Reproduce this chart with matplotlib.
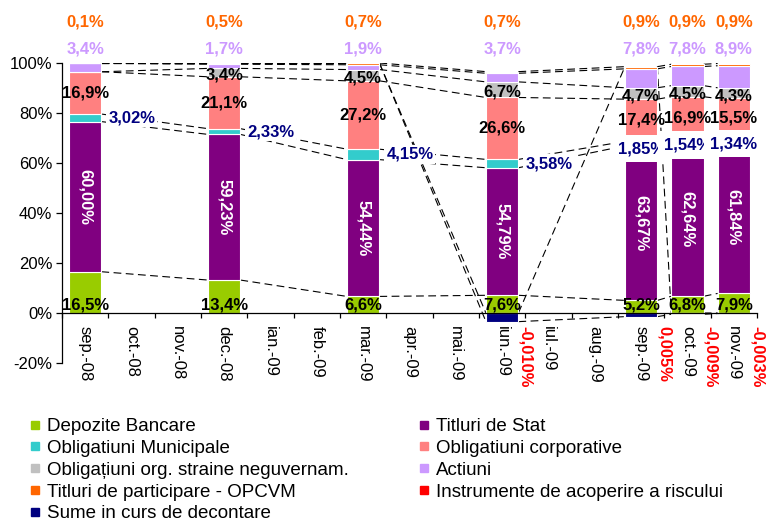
import numpy as np
import matplotlib
matplotlib.use("Agg")
import matplotlib.pyplot as plt
from matplotlib.lines import Line2D

plt.rcParams['font.family'] = ['Liberation Sans', 'DejaVu Sans']

# ---------------- data ----------------
months = ['sep.-08', 'oct.-08', 'nov.-08', 'dec.-08', 'ian.-09', 'feb.-09', 'mar.-09',
          'apr.-09', 'mai.-09', 'iun.-09', 'iul.-09', 'aug.-09', 'sep.-09', 'oct.-09', 'nov.-09']
bar_months = ['sep.-08', 'dec.-08', 'mar.-09', 'iun.-09', 'sep.-09', 'oct.-09', 'nov.-09']

depozite = [16.5, 13.4, 6.6, 7.6, 5.2, 6.8, 7.9]
titluri_stat = [60.00, 59.23, 54.44, 54.79, 63.67, 62.64, 61.84]
oblig_municipale = [3.02, 2.33, 4.15, 3.58, 1.85, 1.54, 1.34]
oblig_corporative = [16.9, 21.1, 27.2, 26.6, 17.4, 16.9, 15.5]
oblig_straine = [0.0, 3.4, 4.5, 6.7, 4.7, 4.5, 4.3]
actiuni = [3.4, 1.7, 1.9, 3.7, 7.8, 7.8, 8.9]
opcvm = [0.1, 0.5, 0.7, 0.7, 0.9, 0.9, 0.9]
instrumente = [0.0, 0.0, 0.0, -0.010, 0.005, -0.009, -0.003]
sume_decontare = [0.0, 0.0, 0.0, -3.7, -1.5, -0.5, -0.2]

series_names = ['Depozite Bancare', 'Titluri de Stat', 'Obligatiuni Municipale',
                'Obligatiuni corporative', 'Obligațiuni org. straine neguvernam.', 'Actiuni',
                'Titluri de participare - OPCVM', 'Instrumente de acoperire a riscului',
                'Sume in curs de decontare']
series_vals = [depozite, titluri_stat, oblig_municipale, oblig_corporative, oblig_straine,
               actiuni, opcvm, instrumente, sume_decontare]
colors = ['#99CC00', '#800080', '#33CCCC', '#FF8080', '#C0C0C0', '#CC99FF',
          '#FF6600', '#FF0000', '#000080']

# ---------------- figure ----------------
W, H = 769, 523
fig = plt.figure(figsize=(W / 100, H / 100), dpi=100)
ax = fig.add_axes([62 / W, 1 - 363 / H, 695 / W, 300 / H])

data = np.array(series_vals, dtype=float)          # (series, bars)
totals = np.abs(data).sum(axis=0)
pct = data / totals * 100.0                          # 100% stacked

xs = np.array([months.index(m) for m in bar_months], dtype=float)
bw = 0.7

nS, nB = pct.shape
bottoms = np.zeros_like(pct)
ends = np.zeros_like(pct)
for b in range(nB):
    pos, neg = 0.0, 0.0
    for s in range(nS):
        v = pct[s, b]
        if v >= 0:
            bottoms[s, b] = pos
            pos += v
            ends[s, b] = pos
        else:
            bottoms[s, b] = neg
            neg += v
            ends[s, b] = neg

for s in range(nS):
    ax.bar(xs, pct[s], bottom=bottoms[s], width=bw, color=colors[s],
           edgecolor='white', linewidth=0.8, zorder=2)

# series lines
for s in range(nS):
    for b in range(nB - 1):
        ax.plot([xs[b] + bw / 2, xs[b + 1] - bw / 2], [ends[s, b], ends[s, b + 1]],
                color='black', lw=0.8, ls=(0, (7, 4)), zorder=1)

# ---------------- axes styling ----------------
ax.set_xlim(-0.5, len(months) - 0.5)
ax.set_ylim(-20, 100)
ax.spines['top'].set_visible(False)
ax.spines['right'].set_visible(False)
ax.spines['bottom'].set_position(('data', 0))
ax.spines['bottom'].set_zorder(3)
ax.spines['left'].set_linewidth(0.9)
ax.spines['bottom'].set_linewidth(0.9)

ax.set_yticks([-20, 0, 20, 40, 60, 80, 100])
ax.set_yticklabels([f'{t}%' for t in [-20, 0, 20, 40, 60, 80, 100]], fontsize=12)
ax.tick_params(axis='y', length=4, width=0.9, pad=3, direction='out')

ax.set_xticks(range(len(months)))
ax.set_xticklabels(months, rotation=270, ha='center', va='top', fontsize=12)
ax.set_xticks(np.arange(-0.5, len(months), 1), minor=True)
ax.tick_params(axis='x', which='major', length=0, pad=9)
ax.tick_params(axis='x', which='minor', length=3.5, width=0.9, direction='out')


def fmt(v, d):
    return f'{v:.{d}f}'.replace('.', ',') + '%'


bold = dict(fontsize=12, fontweight='bold')
for b in range(nB):
    x = xs[b]
    # Depozite
    ax.text(x, 0, fmt(depozite[b], 1), ha='center', va='bottom', color='black', zorder=5, **bold)
    # Titluri de Stat
    ax.text(x, bottoms[1, b] + pct[1, b] / 2, fmt(titluri_stat[b], 2), ha='center', va='center',
            rotation=270, color='white', zorder=5, **bold)
    # Municipale
    ymid = bottoms[2, b] + pct[2, b] / 2
    nxt_empty = (b == nB - 1) or (xs[b + 1] - xs[b] > 1)
    if b < nB - 1 and nxt_empty:
        ax.annotate(fmt(oblig_municipale[b], 2), (x + bw / 2, ymid), xytext=(5, 0),
                    textcoords='offset points', ha='left', va='center', color='#000080',
                    zorder=6, bbox=dict(boxstyle='square,pad=0.12', fc='white', ec='none'), **bold)
    else:
        ax.text(x, ymid - 2, fmt(oblig_municipale[b], 2), ha='center', va='center',
                color='#000080', zorder=6,
                bbox=dict(boxstyle='square,pad=0.38', fc='white', ec='none'), **bold)
    # Corporative
    ax.text(x, bottoms[3, b] + pct[3, b] / 2, fmt(oblig_corporative[b], 1), ha='center',
            va='center', color='black', zorder=5, **bold)
    # Org straine
    if oblig_straine[b] != 0:
        ax.text(x, bottoms[4, b] + pct[4, b] / 2 - 1, fmt(oblig_straine[b], 1), ha='center',
                va='center', color='black', zorder=5, **bold)
    # Actiuni (above plot)
    ax.text(x, 105.7, fmt(actiuni[b], 1), ha='center', va='center', color='#CC99FF',
            clip_on=False, zorder=5, **bold)
    # OPCVM (above plot)
    ax.text(x, 116.4, fmt(opcvm[b], 1), ha='center', va='center', color='#FF6600',
            clip_on=False, zorder=5, **bold)
    # Instrumente
    if instrumente[b] != 0:
        ax.text(x + 0.5, -5.0, fmt(instrumente[b], 3), ha='center', va='top', rotation=270,
                color='#FF0000', zorder=5, **bold)

# ---------------- legend ----------------
order = [0, 2, 4, 6, 8, 1, 3, 5, 7]
handles = [Line2D([], [], marker='s', ls='none', markersize=5.5, color=colors[i],
                  markeredgecolor=colors[i]) for i in order]
labels = [series_names[i] for i in order]
fig.legend(handles, labels, loc='upper left', bbox_to_anchor=(30.5 / W, 1 - 418 / H),
           ncol=2, frameon=False, fontsize=13.5, handlelength=0.45, handletextpad=0.42,
           columnspacing=3.8, labelspacing=0.25, borderpad=0, borderaxespad=0)

fig.savefig('out.png', dpi=100)
